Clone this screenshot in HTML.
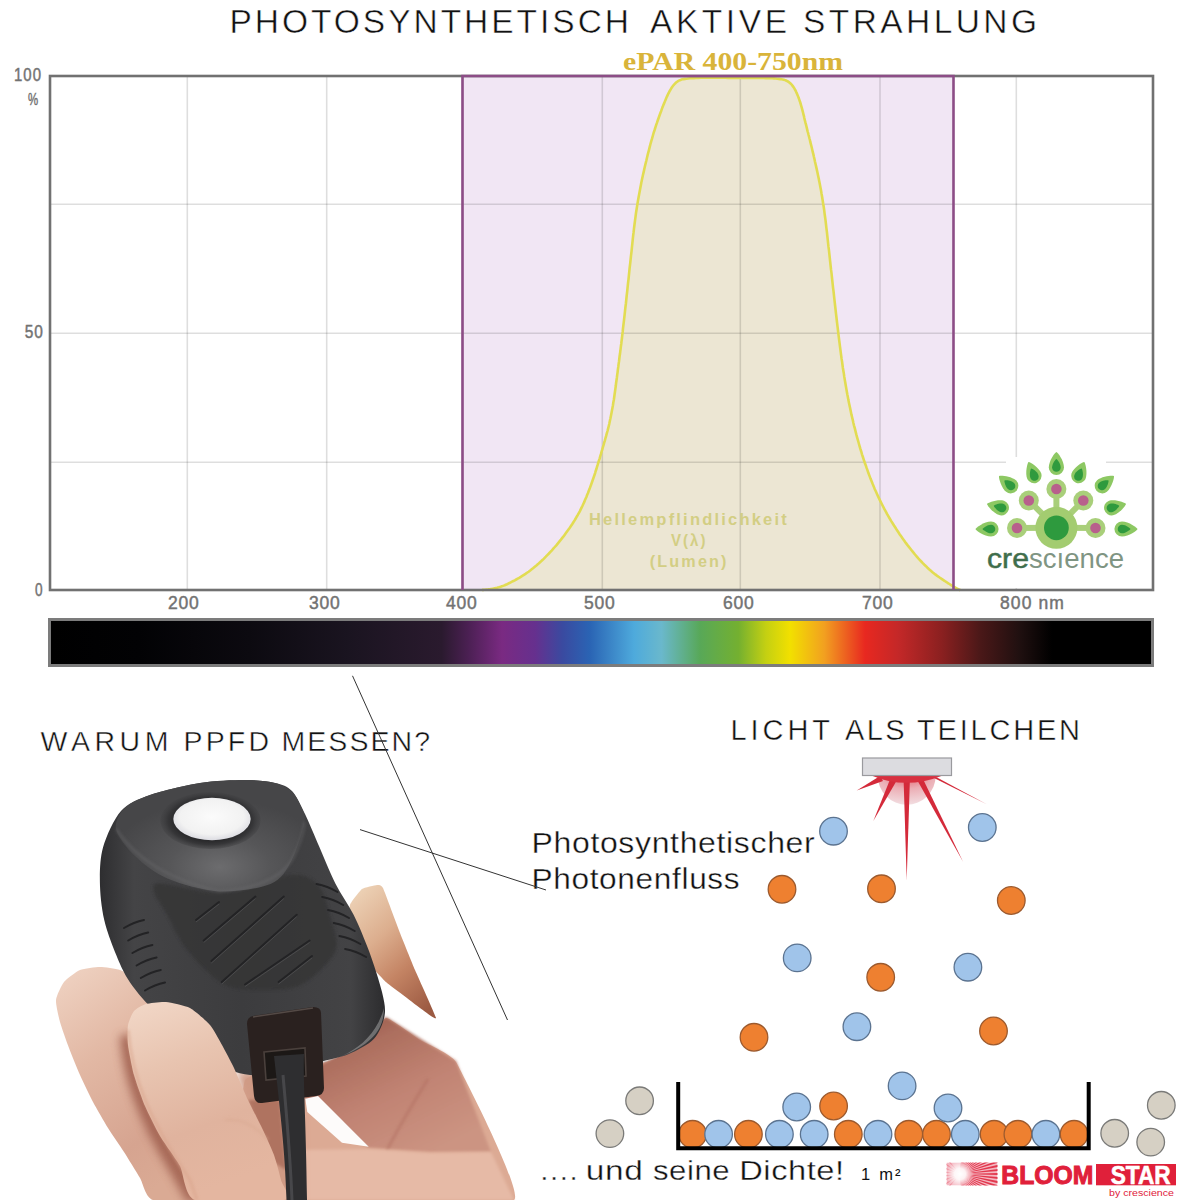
<!DOCTYPE html>
<html><head><meta charset="utf-8">
<style>
html,body{margin:0;padding:0;background:#fff;}
body{width:1200px;height:1200px;overflow:hidden;position:relative;}
svg{position:absolute;left:0;top:0;}
</style></head><body>
<svg width="1200" height="1200" viewBox="0 0 1200 1200" font-family="Liberation Sans, sans-serif">
<defs>
<linearGradient id="spec" x1="51" y1="0" x2="1151" y2="0" gradientUnits="userSpaceOnUse">
<stop offset="0" stop-color="#000"/>
<stop offset="0.08" stop-color="#020204"/>
<stop offset="0.18" stop-color="#0c0a10"/>
<stop offset="0.27" stop-color="#1a1420"/>
<stop offset="0.355" stop-color="#2a1a2e"/>
<stop offset="0.38" stop-color="#4c2054"/>
<stop offset="0.41" stop-color="#7a2a82"/>
<stop offset="0.44" stop-color="#66308e"/>
<stop offset="0.465" stop-color="#3a4aa0"/>
<stop offset="0.49" stop-color="#2a64b4"/>
<stop offset="0.53" stop-color="#4eaadc"/>
<stop offset="0.555" stop-color="#6ab8cc"/>
<stop offset="0.59" stop-color="#58a858"/>
<stop offset="0.625" stop-color="#74b030"/>
<stop offset="0.65" stop-color="#c4d012"/>
<stop offset="0.672" stop-color="#f2e000"/>
<stop offset="0.703" stop-color="#f2a020"/>
<stop offset="0.74" stop-color="#e82820"/>
<stop offset="0.77" stop-color="#c42828"/>
<stop offset="0.81" stop-color="#8a2020"/>
<stop offset="0.845" stop-color="#4a1818"/>
<stop offset="0.88" stop-color="#201010"/>
<stop offset="0.91" stop-color="#000"/>
<stop offset="1" stop-color="#000"/>
</linearGradient>
</defs>

<rect x="462.5" y="76" width="491" height="514" fill="#f1e6f4"/>
<path d="M482.0,590.0 L482.0,590.0 L482.1,590.0 L482.3,590.0 L482.4,590.0 L482.6,589.9 L482.9,589.9 L483.2,589.9 L483.5,589.9 L483.9,589.8 L484.4,589.8 L484.8,589.7 L485.4,589.7 L485.9,589.6 L486.5,589.6 L487.2,589.5 L487.8,589.5 L488.5,589.4 L489.3,589.3 L490.0,589.2 L490.7,589.1 L491.5,589.0 L492.3,588.8 L493.0,588.7 L493.8,588.5 L494.6,588.3 L495.5,588.1 L496.3,587.9 L497.2,587.7 L498.0,587.4 L498.9,587.2 L499.8,586.9 L500.7,586.7 L501.7,586.3 L502.6,586.0 L503.7,585.6 L504.7,585.2 L505.8,584.7 L507.0,584.2 L508.2,583.6 L509.4,583.0 L510.7,582.4 L512.0,581.7 L513.4,581.0 L514.8,580.3 L516.2,579.5 L517.7,578.6 L519.2,577.8 L520.8,576.8 L522.3,575.9 L523.9,574.9 L525.5,573.9 L527.0,572.8 L528.6,571.7 L530.2,570.5 L531.7,569.3 L533.3,568.1 L534.8,566.8 L536.4,565.5 L538.0,564.1 L539.5,562.7 L541.1,561.3 L542.7,559.8 L544.2,558.3 L545.8,556.7 L547.3,555.1 L548.9,553.5 L550.4,551.9 L551.9,550.3 L553.3,548.7 L554.8,547.0 L556.3,545.3 L557.7,543.6 L559.1,541.9 L560.5,540.2 L561.9,538.4 L563.3,536.7 L564.6,534.9 L565.9,533.1 L567.2,531.3 L568.5,529.5 L569.8,527.7 L571.1,525.8 L572.3,524.0 L573.4,522.2 L574.6,520.4 L575.7,518.5 L576.7,516.7 L577.8,514.9 L578.8,513.1 L579.8,511.3 L580.7,509.4 L581.6,507.6 L582.5,505.8 L583.3,504.0 L584.2,502.2 L584.9,500.3 L585.7,498.5 L586.5,496.7 L587.2,494.8 L588.0,492.9 L588.7,491.0 L589.5,489.1 L590.2,487.1 L590.9,485.2 L591.6,483.2 L592.3,481.2 L593.0,479.2 L593.7,477.2 L594.4,475.2 L595.1,473.1 L595.7,471.0 L596.4,469.0 L597.0,466.9 L597.7,464.7 L598.3,462.6 L599.0,460.4 L599.7,458.3 L600.3,456.1 L601.0,453.9 L601.6,451.7 L602.3,449.4 L602.9,447.2 L603.6,444.9 L604.2,442.7 L604.9,440.4 L605.5,438.0 L606.2,435.7 L606.8,433.4 L607.5,431.0 L608.1,428.6 L608.7,426.2 L609.3,423.7 L609.8,421.2 L610.4,418.6 L610.9,416.1 L611.4,413.5 L611.9,410.8 L612.4,408.2 L612.9,405.5 L613.3,402.7 L613.8,400.0 L614.2,397.2 L614.6,394.3 L615.0,391.5 L615.4,388.6 L615.8,385.8 L616.1,383.0 L616.5,380.2 L616.9,377.5 L617.2,374.8 L617.6,372.1 L617.9,369.4 L618.3,366.7 L618.6,364.1 L619.0,361.5 L619.3,358.9 L619.6,356.3 L620.0,353.8 L620.3,351.2 L620.6,348.8 L620.9,346.2 L621.3,343.5 L621.6,340.7 L622.0,337.8 L622.3,334.8 L622.7,331.7 L623.0,328.5 L623.4,325.2 L623.8,321.9 L624.2,318.4 L624.6,314.8 L625.0,311.1 L625.4,307.4 L625.9,303.5 L626.3,299.5 L626.7,295.5 L627.2,291.4 L627.6,287.4 L628.0,283.4 L628.5,279.3 L628.9,275.3 L629.3,271.4 L629.7,267.4 L630.2,263.4 L630.6,259.5 L631.0,255.6 L631.5,251.6 L631.9,247.7 L632.3,243.8 L632.7,239.9 L633.1,236.1 L633.6,232.2 L634.0,228.4 L634.5,224.5 L635.0,220.7 L635.5,216.9 L636.0,213.0 L636.6,209.2 L637.2,205.4 L637.8,201.6 L638.5,197.8 L639.2,194.0 L639.9,190.2 L640.6,186.5 L641.3,182.7 L642.1,178.9 L642.9,175.2 L643.8,171.4 L644.6,167.8 L645.4,164.2 L646.3,160.7 L647.1,157.2 L647.9,153.9 L648.8,150.6 L649.6,147.4 L650.4,144.3 L651.2,141.3 L652.1,138.4 L652.9,135.5 L653.7,132.7 L654.6,130.0 L655.4,127.4 L656.2,124.9 L657.1,122.4 L657.9,120.0 L658.7,117.7 L659.5,115.5 L660.3,113.3 L661.1,111.2 L661.8,109.1 L662.6,107.1 L663.3,105.2 L664.1,103.4 L664.8,101.6 L665.5,99.9 L666.2,98.2 L666.9,96.6 L667.6,95.1 L668.3,93.7 L669.0,92.3 L669.7,91.0 L670.4,89.8 L671.1,88.6 L671.8,87.5 L672.5,86.5 L673.3,85.5 L674.0,84.6 L674.8,83.8 L675.6,83.0 L676.4,82.3 L677.2,81.7 L678.0,81.1 L678.9,80.7 L679.7,80.2 L680.6,79.9 L681.4,79.6 L682.5,79.3 L683.6,79.1 L685.0,78.9 L686.4,78.7 L688.0,78.5 L689.8,78.3 L691.7,78.2 L693.8,78.1 L696.0,78.0 L698.4,77.9 L700.9,77.8 L703.5,77.8 L706.3,77.7 L709.3,77.7 L712.4,77.7 L715.6,77.8 L718.8,77.8 L722.0,77.8 L725.1,77.8 L728.2,77.9 L731.2,77.9 L734.1,77.9 L737.1,77.9 L739.9,77.9 L742.8,78.0 L745.5,78.0 L748.3,78.0 L751.0,78.0 L753.6,78.0 L756.2,78.0 L758.8,78.0 L761.2,78.0 L763.6,78.0 L765.9,78.1 L768.1,78.1 L770.2,78.2 L772.1,78.3 L774.0,78.4 L775.7,78.5 L777.3,78.7 L778.8,78.9 L780.2,79.1 L781.5,79.3 L782.7,79.5 L783.8,79.8 L784.8,80.1 L785.6,80.3 L786.4,80.7 L787.1,81.0 L787.8,81.4 L788.5,81.9 L789.2,82.4 L789.9,82.9 L790.5,83.5 L791.2,84.2 L791.8,84.8 L792.4,85.6 L793.0,86.4 L793.6,87.2 L794.2,88.1 L794.7,89.0 L795.2,90.0 L795.8,91.0 L796.2,92.0 L796.7,93.1 L797.2,94.2 L797.7,95.4 L798.2,96.6 L798.6,97.8 L799.1,99.1 L799.5,100.3 L800.0,101.7 L800.4,103.0 L800.8,104.4 L801.2,105.8 L801.6,107.2 L802.0,108.7 L802.4,110.2 L802.8,111.7 L803.2,113.3 L803.6,114.9 L804.0,116.4 L804.3,118.0 L804.7,119.7 L805.1,121.3 L805.5,122.9 L806.0,124.6 L806.4,126.2 L806.8,127.9 L807.2,129.6 L807.6,131.3 L808.1,133.0 L808.5,134.8 L809.0,136.5 L809.4,138.3 L809.9,140.0 L810.3,141.9 L810.8,143.8 L811.3,145.8 L811.8,147.8 L812.3,150.0 L812.8,152.2 L813.4,154.4 L813.9,156.8 L814.5,159.2 L815.0,161.7 L815.6,164.2 L816.2,166.9 L816.8,169.6 L817.4,172.3 L818.0,175.2 L818.6,178.1 L819.2,181.1 L819.8,184.1 L820.4,187.2 L821.0,190.3 L821.5,193.5 L822.1,196.7 L822.6,200.0 L823.1,203.3 L823.7,206.7 L824.2,210.2 L824.6,213.6 L825.1,217.2 L825.6,220.8 L826.0,224.4 L826.4,228.1 L826.9,231.9 L827.3,235.6 L827.7,239.4 L828.1,243.1 L828.5,246.9 L829.0,250.6 L829.4,254.4 L829.8,258.1 L830.2,261.9 L830.6,265.6 L831.0,269.4 L831.5,273.1 L831.9,276.9 L832.3,280.6 L832.7,284.4 L833.1,288.1 L833.6,291.9 L834.0,295.6 L834.4,299.3 L834.8,302.9 L835.2,306.5 L835.6,310.0 L836.0,313.6 L836.4,317.0 L836.8,320.5 L837.2,323.9 L837.6,327.2 L838.0,330.5 L838.4,333.8 L838.8,337.1 L839.2,340.3 L839.6,343.4 L840.0,346.6 L840.4,349.7 L840.8,352.8 L841.2,355.8 L841.6,358.9 L842.1,361.9 L842.5,365.0 L842.9,368.0 L843.4,371.0 L843.9,373.9 L844.3,376.9 L844.8,379.9 L845.3,382.8 L845.8,385.7 L846.3,388.6 L846.8,391.5 L847.3,394.3 L847.9,397.2 L848.4,400.1 L849.0,402.9 L849.6,405.8 L850.2,408.6 L850.8,411.5 L851.4,414.4 L852.1,417.2 L852.8,420.1 L853.4,423.0 L854.1,425.8 L854.9,428.7 L855.6,431.6 L856.3,434.4 L857.1,437.3 L857.9,440.2 L858.7,443.0 L859.5,445.9 L860.3,448.7 L861.2,451.5 L862.0,454.3 L862.9,457.0 L863.8,459.8 L864.7,462.5 L865.7,465.2 L866.6,467.9 L867.6,470.6 L868.5,473.3 L869.5,475.9 L870.5,478.6 L871.6,481.2 L872.6,483.8 L873.7,486.4 L874.7,489.0 L875.9,491.5 L877.0,494.0 L878.2,496.6 L879.4,499.1 L880.6,501.6 L881.8,504.0 L883.1,506.5 L884.3,508.9 L885.7,511.3 L887.0,513.8 L888.3,516.1 L889.7,518.5 L891.1,520.9 L892.6,523.2 L894.0,525.5 L895.5,527.8 L896.9,530.1 L898.4,532.3 L899.8,534.5 L901.3,536.6 L902.8,538.7 L904.3,540.8 L905.8,542.9 L907.3,544.9 L908.9,546.9 L910.4,548.8 L911.9,550.7 L913.5,552.6 L915.0,554.5 L916.6,556.3 L918.1,558.1 L919.7,559.8 L921.3,561.5 L922.8,563.1 L924.4,564.7 L926.0,566.2 L927.5,567.7 L929.1,569.2 L930.6,570.5 L932.2,571.9 L933.8,573.2 L935.3,574.4 L936.9,575.6 L938.5,576.7 L940.0,577.8 L941.6,578.9 L943.1,579.9 L944.5,580.8 L945.8,581.7 L947.1,582.5 L948.3,583.3 L949.5,584.0 L950.5,584.7 L951.5,585.3 L952.4,585.9 L953.3,586.4 L954.1,586.9 L954.8,587.3 L955.4,587.7 L956.0,588.0 L956.4,588.2 L956.9,588.5 L957.3,588.6 L957.6,588.8 L958.0,589.0 L958.3,589.1 L958.6,589.3 L958.8,589.4 L959.1,589.5 L959.3,589.6 L959.5,589.7 L959.6,589.8 L959.7,589.9 L959.8,589.9 L959.9,590.0 L960.0,590.0 L960.0,590.0 Z" fill="#ece6d3"/>
<line x1="187.3" y1="75" x2="187.3" y2="590" stroke="#000" stroke-opacity="0.13" stroke-width="1.6"/>
<line x1="326.7" y1="75" x2="326.7" y2="590" stroke="#000" stroke-opacity="0.13" stroke-width="1.6"/>
<line x1="462.5" y1="75" x2="462.5" y2="590" stroke="#000" stroke-opacity="0.13" stroke-width="1.6"/>
<line x1="602.3" y1="75" x2="602.3" y2="590" stroke="#000" stroke-opacity="0.13" stroke-width="1.6"/>
<line x1="740.3" y1="75" x2="740.3" y2="590" stroke="#000" stroke-opacity="0.13" stroke-width="1.6"/>
<line x1="880.0" y1="75" x2="880.0" y2="590" stroke="#000" stroke-opacity="0.13" stroke-width="1.6"/>
<line x1="1016.3" y1="75" x2="1016.3" y2="590" stroke="#000" stroke-opacity="0.13" stroke-width="1.6"/>
<line x1="50" y1="204.3" x2="1153" y2="204.3" stroke="#000" stroke-opacity="0.13" stroke-width="1.6"/>
<line x1="50" y1="333.2" x2="1153" y2="333.2" stroke="#000" stroke-opacity="0.13" stroke-width="1.6"/>
<line x1="50" y1="462.2" x2="1153" y2="462.2" stroke="#000" stroke-opacity="0.13" stroke-width="1.6"/>
<path d="M482.0,590.0 L482.0,590.0 L482.1,590.0 L482.3,590.0 L482.4,590.0 L482.6,589.9 L482.9,589.9 L483.2,589.9 L483.5,589.9 L483.9,589.8 L484.4,589.8 L484.8,589.7 L485.4,589.7 L485.9,589.6 L486.5,589.6 L487.2,589.5 L487.8,589.5 L488.5,589.4 L489.3,589.3 L490.0,589.2 L490.7,589.1 L491.5,589.0 L492.3,588.8 L493.0,588.7 L493.8,588.5 L494.6,588.3 L495.5,588.1 L496.3,587.9 L497.2,587.7 L498.0,587.4 L498.9,587.2 L499.8,586.9 L500.7,586.7 L501.7,586.3 L502.6,586.0 L503.7,585.6 L504.7,585.2 L505.8,584.7 L507.0,584.2 L508.2,583.6 L509.4,583.0 L510.7,582.4 L512.0,581.7 L513.4,581.0 L514.8,580.3 L516.2,579.5 L517.7,578.6 L519.2,577.8 L520.8,576.8 L522.3,575.9 L523.9,574.9 L525.5,573.9 L527.0,572.8 L528.6,571.7 L530.2,570.5 L531.7,569.3 L533.3,568.1 L534.8,566.8 L536.4,565.5 L538.0,564.1 L539.5,562.7 L541.1,561.3 L542.7,559.8 L544.2,558.3 L545.8,556.7 L547.3,555.1 L548.9,553.5 L550.4,551.9 L551.9,550.3 L553.3,548.7 L554.8,547.0 L556.3,545.3 L557.7,543.6 L559.1,541.9 L560.5,540.2 L561.9,538.4 L563.3,536.7 L564.6,534.9 L565.9,533.1 L567.2,531.3 L568.5,529.5 L569.8,527.7 L571.1,525.8 L572.3,524.0 L573.4,522.2 L574.6,520.4 L575.7,518.5 L576.7,516.7 L577.8,514.9 L578.8,513.1 L579.8,511.3 L580.7,509.4 L581.6,507.6 L582.5,505.8 L583.3,504.0 L584.2,502.2 L584.9,500.3 L585.7,498.5 L586.5,496.7 L587.2,494.8 L588.0,492.9 L588.7,491.0 L589.5,489.1 L590.2,487.1 L590.9,485.2 L591.6,483.2 L592.3,481.2 L593.0,479.2 L593.7,477.2 L594.4,475.2 L595.1,473.1 L595.7,471.0 L596.4,469.0 L597.0,466.9 L597.7,464.7 L598.3,462.6 L599.0,460.4 L599.7,458.3 L600.3,456.1 L601.0,453.9 L601.6,451.7 L602.3,449.4 L602.9,447.2 L603.6,444.9 L604.2,442.7 L604.9,440.4 L605.5,438.0 L606.2,435.7 L606.8,433.4 L607.5,431.0 L608.1,428.6 L608.7,426.2 L609.3,423.7 L609.8,421.2 L610.4,418.6 L610.9,416.1 L611.4,413.5 L611.9,410.8 L612.4,408.2 L612.9,405.5 L613.3,402.7 L613.8,400.0 L614.2,397.2 L614.6,394.3 L615.0,391.5 L615.4,388.6 L615.8,385.8 L616.1,383.0 L616.5,380.2 L616.9,377.5 L617.2,374.8 L617.6,372.1 L617.9,369.4 L618.3,366.7 L618.6,364.1 L619.0,361.5 L619.3,358.9 L619.6,356.3 L620.0,353.8 L620.3,351.2 L620.6,348.8 L620.9,346.2 L621.3,343.5 L621.6,340.7 L622.0,337.8 L622.3,334.8 L622.7,331.7 L623.0,328.5 L623.4,325.2 L623.8,321.9 L624.2,318.4 L624.6,314.8 L625.0,311.1 L625.4,307.4 L625.9,303.5 L626.3,299.5 L626.7,295.5 L627.2,291.4 L627.6,287.4 L628.0,283.4 L628.5,279.3 L628.9,275.3 L629.3,271.4 L629.7,267.4 L630.2,263.4 L630.6,259.5 L631.0,255.6 L631.5,251.6 L631.9,247.7 L632.3,243.8 L632.7,239.9 L633.1,236.1 L633.6,232.2 L634.0,228.4 L634.5,224.5 L635.0,220.7 L635.5,216.9 L636.0,213.0 L636.6,209.2 L637.2,205.4 L637.8,201.6 L638.5,197.8 L639.2,194.0 L639.9,190.2 L640.6,186.5 L641.3,182.7 L642.1,178.9 L642.9,175.2 L643.8,171.4 L644.6,167.8 L645.4,164.2 L646.3,160.7 L647.1,157.2 L647.9,153.9 L648.8,150.6 L649.6,147.4 L650.4,144.3 L651.2,141.3 L652.1,138.4 L652.9,135.5 L653.7,132.7 L654.6,130.0 L655.4,127.4 L656.2,124.9 L657.1,122.4 L657.9,120.0 L658.7,117.7 L659.5,115.5 L660.3,113.3 L661.1,111.2 L661.8,109.1 L662.6,107.1 L663.3,105.2 L664.1,103.4 L664.8,101.6 L665.5,99.9 L666.2,98.2 L666.9,96.6 L667.6,95.1 L668.3,93.7 L669.0,92.3 L669.7,91.0 L670.4,89.8 L671.1,88.6 L671.8,87.5 L672.5,86.5 L673.3,85.5 L674.0,84.6 L674.8,83.8 L675.6,83.0 L676.4,82.3 L677.2,81.7 L678.0,81.1 L678.9,80.7 L679.7,80.2 L680.6,79.9 L681.4,79.6 L682.5,79.3 L683.6,79.1 L685.0,78.9 L686.4,78.7 L688.0,78.5 L689.8,78.3 L691.7,78.2 L693.8,78.1 L696.0,78.0 L698.4,77.9 L700.9,77.8 L703.5,77.8 L706.3,77.7 L709.3,77.7 L712.4,77.7 L715.6,77.8 L718.8,77.8 L722.0,77.8 L725.1,77.8 L728.2,77.9 L731.2,77.9 L734.1,77.9 L737.1,77.9 L739.9,77.9 L742.8,78.0 L745.5,78.0 L748.3,78.0 L751.0,78.0 L753.6,78.0 L756.2,78.0 L758.8,78.0 L761.2,78.0 L763.6,78.0 L765.9,78.1 L768.1,78.1 L770.2,78.2 L772.1,78.3 L774.0,78.4 L775.7,78.5 L777.3,78.7 L778.8,78.9 L780.2,79.1 L781.5,79.3 L782.7,79.5 L783.8,79.8 L784.8,80.1 L785.6,80.3 L786.4,80.7 L787.1,81.0 L787.8,81.4 L788.5,81.9 L789.2,82.4 L789.9,82.9 L790.5,83.5 L791.2,84.2 L791.8,84.8 L792.4,85.6 L793.0,86.4 L793.6,87.2 L794.2,88.1 L794.7,89.0 L795.2,90.0 L795.8,91.0 L796.2,92.0 L796.7,93.1 L797.2,94.2 L797.7,95.4 L798.2,96.6 L798.6,97.8 L799.1,99.1 L799.5,100.3 L800.0,101.7 L800.4,103.0 L800.8,104.4 L801.2,105.8 L801.6,107.2 L802.0,108.7 L802.4,110.2 L802.8,111.7 L803.2,113.3 L803.6,114.9 L804.0,116.4 L804.3,118.0 L804.7,119.7 L805.1,121.3 L805.5,122.9 L806.0,124.6 L806.4,126.2 L806.8,127.9 L807.2,129.6 L807.6,131.3 L808.1,133.0 L808.5,134.8 L809.0,136.5 L809.4,138.3 L809.9,140.0 L810.3,141.9 L810.8,143.8 L811.3,145.8 L811.8,147.8 L812.3,150.0 L812.8,152.2 L813.4,154.4 L813.9,156.8 L814.5,159.2 L815.0,161.7 L815.6,164.2 L816.2,166.9 L816.8,169.6 L817.4,172.3 L818.0,175.2 L818.6,178.1 L819.2,181.1 L819.8,184.1 L820.4,187.2 L821.0,190.3 L821.5,193.5 L822.1,196.7 L822.6,200.0 L823.1,203.3 L823.7,206.7 L824.2,210.2 L824.6,213.6 L825.1,217.2 L825.6,220.8 L826.0,224.4 L826.4,228.1 L826.9,231.9 L827.3,235.6 L827.7,239.4 L828.1,243.1 L828.5,246.9 L829.0,250.6 L829.4,254.4 L829.8,258.1 L830.2,261.9 L830.6,265.6 L831.0,269.4 L831.5,273.1 L831.9,276.9 L832.3,280.6 L832.7,284.4 L833.1,288.1 L833.6,291.9 L834.0,295.6 L834.4,299.3 L834.8,302.9 L835.2,306.5 L835.6,310.0 L836.0,313.6 L836.4,317.0 L836.8,320.5 L837.2,323.9 L837.6,327.2 L838.0,330.5 L838.4,333.8 L838.8,337.1 L839.2,340.3 L839.6,343.4 L840.0,346.6 L840.4,349.7 L840.8,352.8 L841.2,355.8 L841.6,358.9 L842.1,361.9 L842.5,365.0 L842.9,368.0 L843.4,371.0 L843.9,373.9 L844.3,376.9 L844.8,379.9 L845.3,382.8 L845.8,385.7 L846.3,388.6 L846.8,391.5 L847.3,394.3 L847.9,397.2 L848.4,400.1 L849.0,402.9 L849.6,405.8 L850.2,408.6 L850.8,411.5 L851.4,414.4 L852.1,417.2 L852.8,420.1 L853.4,423.0 L854.1,425.8 L854.9,428.7 L855.6,431.6 L856.3,434.4 L857.1,437.3 L857.9,440.2 L858.7,443.0 L859.5,445.9 L860.3,448.7 L861.2,451.5 L862.0,454.3 L862.9,457.0 L863.8,459.8 L864.7,462.5 L865.7,465.2 L866.6,467.9 L867.6,470.6 L868.5,473.3 L869.5,475.9 L870.5,478.6 L871.6,481.2 L872.6,483.8 L873.7,486.4 L874.7,489.0 L875.9,491.5 L877.0,494.0 L878.2,496.6 L879.4,499.1 L880.6,501.6 L881.8,504.0 L883.1,506.5 L884.3,508.9 L885.7,511.3 L887.0,513.8 L888.3,516.1 L889.7,518.5 L891.1,520.9 L892.6,523.2 L894.0,525.5 L895.5,527.8 L896.9,530.1 L898.4,532.3 L899.8,534.5 L901.3,536.6 L902.8,538.7 L904.3,540.8 L905.8,542.9 L907.3,544.9 L908.9,546.9 L910.4,548.8 L911.9,550.7 L913.5,552.6 L915.0,554.5 L916.6,556.3 L918.1,558.1 L919.7,559.8 L921.3,561.5 L922.8,563.1 L924.4,564.7 L926.0,566.2 L927.5,567.7 L929.1,569.2 L930.6,570.5 L932.2,571.9 L933.8,573.2 L935.3,574.4 L936.9,575.6 L938.5,576.7 L940.0,577.8 L941.6,578.9 L943.1,579.9 L944.5,580.8 L945.8,581.7 L947.1,582.5 L948.3,583.3 L949.5,584.0 L950.5,584.7 L951.5,585.3 L952.4,585.9 L953.3,586.4 L954.1,586.9 L954.8,587.3 L955.4,587.7 L956.0,588.0 L956.4,588.2 L956.9,588.5 L957.3,588.6 L957.6,588.8 L958.0,589.0 L958.3,589.1 L958.6,589.3 L958.8,589.4 L959.1,589.5 L959.3,589.6 L959.5,589.7 L959.6,589.8 L959.7,589.9 L959.8,589.9 L959.9,590.0 L960.0,590.0 L960.0,590.0" fill="none" stroke="#e2dc52" stroke-width="2.6"/>
<rect x="50" y="76" width="1103" height="514" fill="none" stroke="#717171" stroke-width="2.6"/>
<path d="M462.5,590 V76 H953.5 V590" fill="none" stroke="#8c4d86" stroke-width="2.6"/>
<g fill="#727272" stroke="#727272" stroke-width="0.45" font-size="17.5" letter-spacing="1.2">
<text x="14" y="81" textLength="28" lengthAdjust="spacingAndGlyphs">100</text><text x="28" y="105" font-size="16" textLength="11" lengthAdjust="spacingAndGlyphs">%</text>
<text x="24.7" y="338.3" textLength="19.3" lengthAdjust="spacingAndGlyphs">50</text><text x="35" y="595.5" textLength="8.5" lengthAdjust="spacingAndGlyphs">0</text>
<text x="168" y="609" textLength="32" lengthAdjust="spacing">200</text>
<text x="309" y="609" textLength="32" lengthAdjust="spacing">300</text>
<text x="446" y="609" textLength="32" lengthAdjust="spacing">400</text>
<text x="584" y="609" textLength="32" lengthAdjust="spacing">500</text>
<text x="723" y="609" textLength="32" lengthAdjust="spacing">600</text>
<text x="862" y="609" textLength="32" lengthAdjust="spacing">700</text>
<text x="1000" y="609" textLength="65" lengthAdjust="spacing">800 nm</text>
</g>
<text x="623" y="70" font-family="Liberation Serif, serif" font-weight="bold" font-size="25" fill="#d9b43a" textLength="220" lengthAdjust="spacingAndGlyphs">ePAR 400-750nm</text>
<g fill="#d3ce84" font-weight="bold" font-size="16.5" letter-spacing="2.2" text-anchor="start">
<text x="589" y="525" textLength="200" lengthAdjust="spacingAndGlyphs">Hellempflindlichkeit</text>
<text x="671" y="546" textLength="36.5" lengthAdjust="spacingAndGlyphs">V(λ)</text>
<text x="649.7" y="567" textLength="79" lengthAdjust="spacingAndGlyphs">(Lumen)</text>
</g>
<g font-size="33.5" fill="#111" stroke="#fff" stroke-width="0.5"><text x="229.5" y="32.5" textLength="399.5" lengthAdjust="spacing">PHOTOSYNTHETISCH</text><text x="650" y="32.5" textLength="137" lengthAdjust="spacing">AKTIVE</text><text x="803" y="32.5" textLength="234" lengthAdjust="spacing">STRAHLUNG</text></g>
<rect x="49.5" y="619.5" width="1103" height="46" fill="url(#spec)" stroke="#7c7c7c" stroke-width="3"/>
<g font-size="28.5" fill="#111" stroke="#fff" stroke-width="0.45"><text x="40.5" y="751" textLength="128" lengthAdjust="spacing">WARUM</text><text x="183.5" y="751" textLength="85.5" lengthAdjust="spacing">PPFD</text><text x="281.5" y="751" textLength="148.5" lengthAdjust="spacing">MESSEN?</text></g>
<g font-size="29" fill="#111" stroke="#fff" stroke-width="0.45"><text x="730.5" y="739.8" textLength="99.5" lengthAdjust="spacing">LICHT</text><text x="845" y="739.8" textLength="59.5" lengthAdjust="spacing">ALS</text><text x="917" y="739.8" textLength="163" lengthAdjust="spacing">TEILCHEN</text></g>
<g fill="#111" stroke="#fff" stroke-width="0.35">
<text transform="translate(531.5,853) scale(1.0853,1)" font-size="29.5" letter-spacing="0.6">Photosynthetischer</text>
<text transform="translate(531.5,889.2) scale(1.072,1)" font-size="29.5" letter-spacing="0.6">Photonenfluss</text>
<text transform="translate(540.2,1180) scale(1.0488,1)" font-size="28" letter-spacing="1.5">....</text>
<text transform="translate(585.8,1180) scale(1.194,1)" font-size="28" letter-spacing="0.5">und</text>
<text transform="translate(653,1180) scale(1.112,1)" font-size="28" letter-spacing="0.5">seine</text>
<text transform="translate(739.2,1180) scale(1.1649,1)" font-size="28" letter-spacing="0.5">Dichte!</text>
</g>
<text x="861" y="1180" font-size="16.5" fill="#111" letter-spacing="2.2">1 m²</text>
<line x1="352.5" y1="675.8" x2="507.5" y2="1020" stroke="#333" stroke-width="1"/>
<line x1="360" y1="829.6" x2="546" y2="890" stroke="#333" stroke-width="1"/>
<defs><radialGradient id="gGlow" cx="0.5" cy="0" r="1"><stop offset="0" stop-color="#e04050"/><stop offset="0.45" stop-color="#e8a0a8"/><stop offset="1" stop-color="#f0d8dc"/></radialGradient></defs>
<path d="M877.7,775.7 A29,29 0 0 0 935.7,775.7 Z" fill="url(#gGlow)" opacity="0.85"/>
<g fill="#d42a3a">
<path d="M880,776 L856.7,790.5 L883,781 Z"/>
<path d="M891,777 L873.3,821 L897,780 Z"/>
<path d="M903.5,776 L906.7,880 L910,776 Z"/>
<path d="M916,778 L963.3,862.3 L922,777 Z"/>
<path d="M928,775 L986.7,804.3 L937,777.5 Z"/>
</g>
<path d="M872,775.7 Q906,790 942,775.7 Z" fill="#d83040"/>
<rect x="862.5" y="758" width="89" height="17.5" fill="#dcdce0" stroke="#9a9a9e" stroke-width="1.2"/>
<circle cx="692.6" cy="1134.3" r="13.8" fill="#ee8030" stroke="#9c5a2e" stroke-width="1.3"/>
<circle cx="718.6" cy="1134.3" r="13.8" fill="#a0c4ea" stroke="#5b7390" stroke-width="1.3"/>
<circle cx="748.4" cy="1134.3" r="13.8" fill="#ee8030" stroke="#9c5a2e" stroke-width="1.3"/>
<circle cx="779.4" cy="1134.3" r="13.8" fill="#a0c4ea" stroke="#5b7390" stroke-width="1.3"/>
<circle cx="814.2" cy="1134.3" r="13.8" fill="#a0c4ea" stroke="#5b7390" stroke-width="1.3"/>
<circle cx="848.3" cy="1134.3" r="13.8" fill="#ee8030" stroke="#9c5a2e" stroke-width="1.3"/>
<circle cx="878.0" cy="1134.3" r="13.8" fill="#a0c4ea" stroke="#5b7390" stroke-width="1.3"/>
<circle cx="908.8" cy="1134.3" r="13.8" fill="#ee8030" stroke="#9c5a2e" stroke-width="1.3"/>
<circle cx="936.5" cy="1134.3" r="13.8" fill="#ee8030" stroke="#9c5a2e" stroke-width="1.3"/>
<circle cx="965.3" cy="1134.3" r="13.8" fill="#a0c4ea" stroke="#5b7390" stroke-width="1.3"/>
<circle cx="994.1" cy="1134.3" r="13.8" fill="#ee8030" stroke="#9c5a2e" stroke-width="1.3"/>
<circle cx="1017.9" cy="1134.3" r="13.8" fill="#ee8030" stroke="#9c5a2e" stroke-width="1.3"/>
<circle cx="1045.9" cy="1134.3" r="13.8" fill="#a0c4ea" stroke="#5b7390" stroke-width="1.3"/>
<circle cx="1074.1" cy="1134.3" r="13.8" fill="#ee8030" stroke="#9c5a2e" stroke-width="1.3"/>
<circle cx="754.0" cy="1037.3" r="13.8" fill="#ee8030" stroke="#9c5a2e" stroke-width="1.3"/>
<circle cx="782.0" cy="889.3" r="13.8" fill="#ee8030" stroke="#9c5a2e" stroke-width="1.3"/>
<circle cx="796.7" cy="1107.0" r="13.8" fill="#a0c4ea" stroke="#5b7390" stroke-width="1.3"/>
<circle cx="797.2" cy="957.9" r="13.8" fill="#a0c4ea" stroke="#5b7390" stroke-width="1.3"/>
<circle cx="833.5" cy="831.2" r="13.8" fill="#a0c4ea" stroke="#5b7390" stroke-width="1.3"/>
<circle cx="833.6" cy="1106.0" r="13.8" fill="#ee8030" stroke="#9c5a2e" stroke-width="1.3"/>
<circle cx="856.9" cy="1026.7" r="13.8" fill="#a0c4ea" stroke="#5b7390" stroke-width="1.3"/>
<circle cx="880.7" cy="977.3" r="13.8" fill="#ee8030" stroke="#9c5a2e" stroke-width="1.3"/>
<circle cx="881.5" cy="888.8" r="13.8" fill="#ee8030" stroke="#9c5a2e" stroke-width="1.3"/>
<circle cx="902.1" cy="1085.9" r="13.8" fill="#a0c4ea" stroke="#5b7390" stroke-width="1.3"/>
<circle cx="948.0" cy="1108.0" r="13.8" fill="#a0c4ea" stroke="#5b7390" stroke-width="1.3"/>
<circle cx="967.9" cy="967.2" r="13.8" fill="#a0c4ea" stroke="#5b7390" stroke-width="1.3"/>
<circle cx="982.3" cy="827.5" r="13.8" fill="#a0c4ea" stroke="#5b7390" stroke-width="1.3"/>
<circle cx="993.5" cy="1031.0" r="13.8" fill="#ee8030" stroke="#9c5a2e" stroke-width="1.3"/>
<circle cx="1011.3" cy="900.5" r="13.8" fill="#ee8030" stroke="#9c5a2e" stroke-width="1.3"/>
<circle cx="639.6" cy="1100.8" r="13.8" fill="#d6d0c4" stroke="#7a7a78" stroke-width="1.3"/>
<circle cx="609.9" cy="1133.6" r="13.8" fill="#d6d0c4" stroke="#7a7a78" stroke-width="1.3"/>
<circle cx="1114.7" cy="1133.3" r="13.8" fill="#d6d0c4" stroke="#7a7a78" stroke-width="1.3"/>
<circle cx="1150.7" cy="1142.1" r="13.8" fill="#d6d0c4" stroke="#7a7a78" stroke-width="1.3"/>
<circle cx="1161.3" cy="1105.3" r="13.8" fill="#d6d0c4" stroke="#7a7a78" stroke-width="1.3"/>
<path d="M678.2,1082 V1148.2 H1088.7 V1082" fill="none" stroke="#000" stroke-width="4"/>
<defs><clipPath id="bsClip"><rect x="946.5" y="1162.5" width="51" height="23"/></clipPath><radialGradient id="bsGlow"><stop offset="0" stop-color="#fff"/><stop offset="0.4" stop-color="#fff" stop-opacity="0.9"/><stop offset="1" stop-color="#fff" stop-opacity="0"/></radialGradient></defs>
<g clip-path="url(#bsClip)">
<rect x="946.5" y="1162.5" width="51" height="23" fill="#f4b8c2"/>
<path d="M960,1174 L965.4,1104.2 L969.3,1104.6 Z" fill="#e2384e"/>
<path d="M960,1174 L972.6,1105.1 L976.5,1106.0 Z" fill="#e2384e"/>
<path d="M960,1174 L979.8,1106.8 L983.5,1108.1 Z" fill="#e2384e"/>
<path d="M960,1174 L986.7,1109.3 L990.2,1110.9 Z" fill="#e2384e"/>
<path d="M960,1174 L993.3,1112.4 L996.7,1114.4 Z" fill="#e2384e"/>
<path d="M960,1174 L999.5,1116.2 L1002.7,1118.5 Z" fill="#e2384e"/>
<path d="M960,1174 L1005.4,1120.7 L1008.3,1123.3 Z" fill="#e2384e"/>
<path d="M960,1174 L1010.7,1125.7 L1013.3,1128.6 Z" fill="#e2384e"/>
<path d="M960,1174 L1015.5,1131.3 L1017.8,1134.5 Z" fill="#e2384e"/>
<path d="M960,1174 L1019.6,1137.3 L1021.6,1140.7 Z" fill="#e2384e"/>
<path d="M960,1174 L1023.1,1143.8 L1024.7,1147.3 Z" fill="#e2384e"/>
<path d="M960,1174 L1025.9,1150.5 L1027.2,1154.2 Z" fill="#e2384e"/>
<path d="M960,1174 L1028.0,1157.5 L1028.9,1161.4 Z" fill="#e2384e"/>
<path d="M960,1174 L1029.4,1164.7 L1029.8,1168.6 Z" fill="#e2384e"/>
<path d="M960,1174 L1030.0,1172.0 L1030.0,1176.0 Z" fill="#e2384e"/>
<path d="M960,1174 L1029.8,1179.4 L1029.4,1183.3 Z" fill="#e2384e"/>
<path d="M960,1174 L1028.9,1186.6 L1028.0,1190.5 Z" fill="#e2384e"/>
<path d="M960,1174 L1027.2,1193.8 L1025.9,1197.5 Z" fill="#e2384e"/>
<path d="M960,1174 L1024.7,1200.7 L1023.1,1204.2 Z" fill="#e2384e"/>
<path d="M960,1174 L1021.6,1207.3 L1019.6,1210.7 Z" fill="#e2384e"/>
<path d="M960,1174 L1017.8,1213.5 L1015.5,1216.7 Z" fill="#e2384e"/>
<path d="M960,1174 L1013.3,1219.4 L1010.7,1222.3 Z" fill="#e2384e"/>
<path d="M960,1174 L1008.3,1224.7 L1005.4,1227.3 Z" fill="#e2384e"/>
<path d="M960,1174 L1002.7,1229.5 L999.5,1231.8 Z" fill="#e2384e"/>
<path d="M960,1174 L996.7,1233.6 L993.3,1235.6 Z" fill="#e2384e"/>
<path d="M960,1174 L990.2,1237.1 L986.7,1238.7 Z" fill="#e2384e"/>
<path d="M960,1174 L983.5,1239.9 L979.8,1241.2 Z" fill="#e2384e"/>
<path d="M960,1174 L976.5,1242.0 L972.6,1242.9 Z" fill="#e2384e"/>
<path d="M960,1174 L969.3,1243.4 L965.4,1243.8 Z" fill="#e2384e"/>
<path d="M960,1174 L934.8,1205.1 L932.7,1203.3 Z" fill="#ee8a98"/>
<path d="M960,1174 L928.1,1198.1 L926.5,1195.8 Z" fill="#ee8a98"/>
<path d="M960,1174 L923.2,1189.6 L922.2,1187.0 Z" fill="#ee8a98"/>
<path d="M960,1174 L920.5,1180.3 L920.2,1177.5 Z" fill="#ee8a98"/>
<path d="M960,1174 L920.2,1170.5 L920.5,1167.7 Z" fill="#ee8a98"/>
<path d="M960,1174 L922.2,1161.0 L923.2,1158.4 Z" fill="#ee8a98"/>
<path d="M960,1174 L926.5,1152.2 L928.1,1149.9 Z" fill="#ee8a98"/>
<path d="M960,1174 L932.7,1144.7 L934.8,1142.9 Z" fill="#ee8a98"/>
<circle cx="960" cy="1174" r="14" fill="url(#bsGlow)"/>
</g>
<text x="1001.3" y="1184" font-size="25" font-weight="bold" fill="#e0203a" stroke="#e0203a" stroke-width="1" textLength="92" lengthAdjust="spacingAndGlyphs">BLOOM</text>
<rect x="1096" y="1164" width="80" height="21.3" fill="#e0203a"/>
<text x="1110.7" y="1184" font-size="25" font-weight="bold" fill="#fff" stroke="#fff" stroke-width="0.6" textLength="60" lengthAdjust="spacingAndGlyphs">STAR</text>
<text x="1109" y="1196" font-size="9" fill="#e0203a" textLength="65" lengthAdjust="spacingAndGlyphs">by crescience</text>
<defs>
<linearGradient id="gThumb" x1="0.2" y1="0" x2="0.8" y2="1">
<stop offset="0" stop-color="#ecd0b4"/><stop offset="0.35" stop-color="#dcae8e"/><stop offset="0.65" stop-color="#c48464"/><stop offset="1" stop-color="#9c5a42"/></linearGradient>
<linearGradient id="gPalm" x1="0.3" y1="0" x2="0.5" y2="1">
<stop offset="0" stop-color="#9a5a48"/><stop offset="0.2" stop-color="#c08470"/><stop offset="0.5" stop-color="#d89e86"/><stop offset="0.8" stop-color="#e8b6a0"/><stop offset="1" stop-color="#efc4ae"/></linearGradient>
<linearGradient id="gLow" x1="0" y1="0" x2="0.3" y2="1">
<stop offset="0" stop-color="#e2a890"/><stop offset="0.5" stop-color="#ecbca6"/><stop offset="1" stop-color="#f2cab6"/></linearGradient>
<linearGradient id="gIndex" x1="0" y1="0" x2="0.5" y2="1">
<stop offset="0" stop-color="#f0d4c4"/><stop offset="0.4" stop-color="#e2b8a4"/><stop offset="0.8" stop-color="#d6a490"/><stop offset="1" stop-color="#daaa94"/></linearGradient>
<linearGradient id="gMid" x1="0" y1="0" x2="0.3" y2="1">
<stop offset="0" stop-color="#f2d8c8"/><stop offset="0.35" stop-color="#e8c4b0"/><stop offset="0.7" stop-color="#e0b39e"/><stop offset="1" stop-color="#e4b6a0"/></linearGradient>
<radialGradient id="gTop" cx="0.55" cy="0.78" r="0.6">
<stop offset="0" stop-color="#6c6c6e"/><stop offset="0.45" stop-color="#565658"/><stop offset="1" stop-color="#464648"/></radialGradient>
<linearGradient id="gBody" x1="0" y1="0" x2="1" y2="0">
<stop offset="0" stop-color="#2e2e30"/><stop offset="0.12" stop-color="#444446"/><stop offset="0.5" stop-color="#3c3c3e"/><stop offset="0.88" stop-color="#434345"/><stop offset="1" stop-color="#2c2c2e"/></linearGradient>
<linearGradient id="gBot" x1="0" y1="0" x2="0" y2="1">
<stop offset="0" stop-color="#3a3a3c" stop-opacity="0"/><stop offset="1" stop-color="#232325"/></linearGradient>
<filter id="blur1" x="-20%" y="-20%" width="140%" height="140%"><feGaussianBlur stdDeviation="1.5"/></filter>
<filter id="blur3" x="-50%" y="-50%" width="200%" height="200%"><feGaussianBlur stdDeviation="5"/></filter>
</defs>
<path d="M318.0,1064.0 C321.6,1063.4 348.6,1054.3 352.0,1052.0 C355.4,1049.7 382.6,1018.6 386.0,1018.0 C389.4,1017.4 416.5,1037.8 420.0,1040.0 C423.5,1042.2 451.3,1054.0 456.0,1062.0 C460.7,1070.0 524.3,1193.1 514.0,1200.0 C503.7,1206.9 263.7,1203.5 250.0,1200.0 C236.3,1196.5 240.2,1136.0 240.0,1130.0 C239.8,1124.0 243.0,1083.3 245.0,1080.0 C247.0,1076.7 276.4,1064.8 280.0,1064.0 C283.6,1063.2 314.4,1064.6 318.0,1064.0 Z" fill="#dcaa94"/>
<defs><linearGradient id="gRing" x1="0" y1="0" x2="0.7" y2="1">
<stop offset="0" stop-color="#8a4a3a"/><stop offset="0.3" stop-color="#ac6e5e"/><stop offset="0.6" stop-color="#c08272"/><stop offset="1" stop-color="#cc9482"/></linearGradient></defs>
<path d="M300,1075 L330,1060 L386,1017 L456,1061 L491,1152 L430,1152 L369,1148 L305,1100 Z" fill="url(#gRing)" filter="url(#blur1)"/>
<path d="M428,1079 C415,1100 400,1125 387,1150" stroke="#b06e60" stroke-width="2.5" fill="none" opacity="0.6" filter="url(#blur1)"/>
<path d="M300,1200 L296,1150 L369,1149 L430,1153 L491,1152 L514,1200 Z" fill="#e6baa6" filter="url(#blur1)"/>
<path d="M236,1070 L300,1075 L300,1200 L270,1200 Z" fill="#cf9a84" filter="url(#blur3)"/>
<path d="M248,1100 L280,1100 L286,1170 L270,1160 Z" fill="#a86a58" filter="url(#blur1)" opacity="0.8"/>
<path d="M305.3,1098.7 L318,1096 L368.7,1146.7 L342,1142.7 L307.3,1112 Z" fill="#fdfbfa"/>
<path d="M350.0,905.0 C350.8,902.3 360.2,890.3 362.0,889.0 C363.8,887.7 375.6,885.1 377.0,885.0 C378.4,884.9 381.5,884.8 383.0,888.0 C384.5,891.2 397.9,927.5 400.0,933.0 C402.1,938.5 412.6,964.3 415.0,970.0 C417.4,975.7 435.7,1015.5 436.0,1018.0 C436.3,1020.5 422.2,1009.5 420.0,1008.0 C417.8,1006.5 405.3,996.7 403.0,995.0 C400.7,993.3 388.5,984.3 386.0,982.0 C383.5,979.7 368.4,963.5 366.0,960.0 C363.6,956.5 351.1,933.7 350.0,930.0 C348.9,926.3 349.2,907.7 350.0,905.0 Z" fill="url(#gThumb)"/>
<path d="M140.0,982.0 C136.5,978.5 124.0,971.5 120.0,970.0 C116.0,968.5 104.0,967.0 100.0,967.0 C96.0,967.0 83.6,968.5 80.0,970.0 C76.4,971.5 66.4,979.0 64.0,982.0 C61.6,985.0 56.4,996.0 56.0,1000.0 C55.6,1004.0 58.7,1017.2 60.0,1022.0 C61.3,1026.8 67.0,1042.7 69.0,1048.0 C71.0,1053.3 77.6,1069.6 80.0,1075.0 C82.4,1080.4 90.2,1096.7 93.0,1102.0 C95.8,1107.3 104.9,1123.0 108.0,1128.0 C111.1,1133.0 120.8,1147.0 124.0,1152.0 C127.2,1157.0 137.1,1173.2 140.0,1178.0 C142.9,1182.8 145.5,1197.8 153.0,1200.0 C160.5,1202.2 210.3,1204.0 215.0,1200.0 C219.7,1196.0 203.7,1170.0 200.0,1160.0 C196.3,1150.0 181.4,1111.5 178.0,1100.0 C174.6,1088.5 168.3,1054.5 166.0,1045.0 C163.7,1035.5 157.6,1011.3 155.0,1005.0 C152.4,998.7 143.5,985.5 140.0,982.0 Z" fill="url(#gIndex)"/>
<path d="M121.0,811.0 C128.1,803.1 138.2,799.2 150.0,795.0 C161.8,790.8 185.8,785.2 200.0,783.0 C214.2,780.8 233.8,780.0 245.0,780.0 C256.2,780.0 267.9,781.4 275.0,783.0 C282.1,784.6 287.5,786.4 292.0,791.0 C296.5,795.6 301.2,806.3 305.0,814.0 C308.8,821.7 312.8,831.9 317.4,842.4 C322.0,852.9 330.1,872.9 335.5,883.7 C340.9,894.5 348.6,904.6 353.6,914.7 C358.6,924.8 364.7,939.4 369.0,951.0 C373.3,962.6 379.7,982.3 382.0,992.0 C384.3,1001.7 385.8,1008.5 384.6,1015.5 C383.4,1022.5 379.4,1032.9 374.0,1038.7 C368.6,1044.5 356.5,1050.7 348.4,1054.2 C340.3,1057.7 327.3,1059.6 320.0,1062.0 C312.7,1064.4 310.5,1068.0 300.0,1070.0 C289.5,1072.0 263.5,1076.5 250.0,1075.0 C236.5,1073.5 222.8,1068.2 210.0,1060.0 C197.2,1051.8 175.2,1029.4 165.0,1020.0 C154.8,1010.6 147.9,1004.7 141.7,997.4 C135.5,990.1 129.0,982.4 123.6,971.5 C118.2,960.6 109.0,937.8 105.5,925.0 C102.0,912.2 100.4,897.6 100.0,886.0 C99.6,874.4 99.8,858.8 103.0,847.5 C106.2,836.2 114.0,818.9 121.0,811.0 Z" fill="url(#gBody)"/>
<path d="M155.0,884.0 C147.5,888.0 165.1,910.0 170.0,920.0 C174.9,930.0 179.9,941.3 188.0,951.0 C196.1,960.7 212.9,978.6 224.0,984.5 C235.1,990.4 250.3,990.0 262.0,990.0 C273.7,990.0 291.0,990.4 302.0,984.5 C313.0,978.6 331.3,961.4 335.5,951.0 C339.7,940.6 332.6,924.9 330.0,915.0 C327.4,905.1 324.0,891.0 318.0,885.0 C312.0,879.0 304.7,873.8 290.0,875.0 C275.3,876.2 240.2,891.6 220.0,893.0 C199.8,894.4 162.5,880.0 155.0,884.0 Z" fill="#343436" opacity="0.8" filter="url(#blur1)"/>
<path d="M384,1008 C384,1030 372,1044 340,1057 L300,1068 C335,1062 372,1050 384,1008 Z" fill="#b8b8b8" opacity="0.45"/>
<path d="M116.0,829.0 C117.5,836.2 127.3,848.6 135.0,856.0 C142.7,863.4 154.9,873.2 167.5,878.5 C180.1,883.8 203.5,890.6 219.0,891.4 C234.5,892.2 260.1,888.4 271.0,883.7 C281.9,879.1 286.5,869.7 291.5,860.4 C296.5,851.1 303.2,830.0 304.5,821.7 C305.8,813.4 301.9,809.5 300.0,805.0 C298.1,800.5 295.8,795.3 292.0,792.0 C288.2,788.7 282.1,784.8 275.0,783.0 C267.9,781.2 256.2,780.0 245.0,780.0 C233.8,780.0 214.2,780.8 200.0,783.0 C185.8,785.2 161.2,791.2 150.0,795.0 C138.8,798.8 130.1,802.9 125.0,808.0 C119.9,813.1 114.5,821.8 116.0,829.0 Z" fill="url(#gTop)"/>
<path d="M116,829 C135,858 170,880 219,891.4 C250,890 280,880 292,860 C300,845 304,830 304.5,821.7" stroke="#707072" stroke-width="1.8" fill="none" opacity="0.55" filter="url(#blur1)"/>
<defs><radialGradient id="gDisk" cx="0.5" cy="0.45" r="0.55"><stop offset="0" stop-color="#fbfbfb"/><stop offset="0.75" stop-color="#f2f2f2"/><stop offset="1" stop-color="#dcdce2"/></radialGradient>
<radialGradient id="gRingG" cx="0.5" cy="0.5" r="0.5"><stop offset="0.72" stop-color="#2a2a2c"/><stop offset="0.85" stop-color="#363638"/><stop offset="1" stop-color="#404042" stop-opacity="0.4"/></radialGradient></defs>
<ellipse cx="210.5" cy="820.5" rx="50" ry="28.5" fill="url(#gRingG)"/>
<ellipse cx="212" cy="819" rx="38.7" ry="21.2" fill="url(#gDisk)"/>
<g stroke="#232325" stroke-width="2" stroke-linecap="round" fill="none">
<line x1="196.0" y1="920.0" x2="219.0" y2="902.0"/>
<line x1="203.7" y1="940.5" x2="255.4" y2="896.6"/>
<line x1="211.4" y1="961.0" x2="283.8" y2="896.6"/>
<line x1="221.8" y1="982.0" x2="296.7" y2="914.7"/>
<line x1="245.0" y1="984.5" x2="309.6" y2="940.5"/>
<line x1="278.6" y1="982.0" x2="312.0" y2="956.0"/>
<path d="M124.0,928.0 q10,-6 20,-8"/>
<path d="M128.2,940.5 q10,-6 20,-8"/>
<path d="M132.4,953.0 q10,-6 20,-8"/>
<path d="M136.6,965.5 q10,-6 20,-8"/>
<path d="M140.8,978.0 q10,-6 20,-8"/>
<path d="M145.0,990.5 q10,-6 20,-8"/>
<path d="M316.5,884.0 q11,2 21,8"/>
<path d="M322.2,897.0 q11,2 21,8"/>
<path d="M328.0,910.0 q11,2 21,8"/>
<path d="M333.7,923.0 q11,2 21,8"/>
<path d="M339.4,936.0 q11,2 21,8"/>
<path d="M345.1,949.0 q11,2 21,8"/>
</g>
<g stroke="#5c5c5e" stroke-width="1" fill="none" opacity="0.55">
<line x1="196.0" y1="922.0" x2="219.0" y2="904.0"/>
<line x1="203.7" y1="942.5" x2="255.4" y2="898.6"/>
<line x1="211.4" y1="963.0" x2="283.8" y2="898.6"/>
<line x1="221.8" y1="984.0" x2="296.7" y2="916.7"/>
<line x1="245.0" y1="986.5" x2="309.6" y2="942.5"/>
<line x1="278.6" y1="984.0" x2="312.0" y2="958.0"/>
</g>
<path d="M128,1035 C130,1075 145,1115 175,1165 L195,1200" stroke="#a06050" stroke-width="16" fill="none" filter="url(#blur3)" opacity="0.9"/>
<path d="M128.0,1025.0 C128.6,1021.6 132.2,1013.1 134.0,1011.0 C135.8,1008.9 142.8,1004.9 146.0,1004.0 C149.2,1003.1 161.6,1001.6 166.0,1002.0 C170.4,1002.4 185.6,1005.7 190.0,1008.0 C194.4,1010.3 206.8,1021.3 210.0,1025.0 C213.2,1028.7 219.6,1040.7 222.0,1045.0 C224.4,1049.3 231.4,1062.5 234.0,1068.0 C236.6,1073.5 245.2,1094.0 248.0,1100.0 C250.8,1106.0 259.4,1122.5 262.0,1128.0 C264.6,1133.5 272.1,1149.8 274.0,1155.0 C275.9,1160.2 280.0,1175.5 281.0,1180.0 C282.0,1184.5 292.6,1198.0 284.0,1200.0 C275.4,1202.0 205.4,1203.4 195.0,1200.0 C184.6,1196.6 183.5,1172.4 180.0,1166.0 C176.5,1159.6 163.5,1142.0 160.0,1136.0 C156.5,1130.0 147.6,1112.1 145.0,1106.0 C142.4,1099.9 135.7,1081.1 134.0,1075.0 C132.3,1068.9 128.6,1050.0 128.0,1045.0 C127.4,1040.0 127.4,1028.4 128.0,1025.0 Z" fill="url(#gMid)"/>
<path d="M128,1030 C132,1080 150,1120 190,1180 L197,1200" stroke="#d9a48c" stroke-width="3" fill="none" opacity="0.6" filter="url(#blur1)"/>
<path d="M225,1120 C240,1118 255,1125 268,1140" stroke="#d8a890" stroke-width="2" fill="none" opacity="0.6" filter="url(#blur1)"/>
<path d="M253,1016 L313,1007 Q321,1007 321,1013 L324,1088 Q324,1095 316,1096 L262,1103 Q255,1104 254,1096 L247,1024 Q247,1017 253,1016 Z" fill="#2a211f"/>
<path d="M253,1017 L313,1008" stroke="#544a46" stroke-width="1.5" fill="none"/>
<path d="M264,1052 L305,1048 L306,1076 L266,1080 Z" fill="#1c1816" stroke="#4a403c" stroke-width="1.6"/>
<path d="M274,1056 L304,1054 C303,1080 306,1120 307,1200 L286.5,1200 C285,1150 280,1110 274,1056 Z" fill="#2e2e30"/>
<path d="M283,1075 C286,1110 290,1150 292,1200" stroke="#58585c" stroke-width="3" fill="none" opacity="0.6"/>
<rect x="1006" y="457" width="100" height="131" fill="#fff"/>
<path d="M1064.0,467.5 C1064.0,460.7 1057.5,452.0 1056.4,452.0 C1055.3,452.0 1048.8,460.7 1048.8,467.5 A7.6,7.6 0 0 0 1064.0,467.5 Z" fill="#8dc863"/>
<path d="M1060.7,467.5 C1060.7,463.6 1057.0,459.0 1056.4,459.0 C1055.8,459.0 1052.1,463.6 1052.1,467.5 A4.3,4.3 0 0 0 1060.7,467.5 Z" fill="#2f9a3e"/>
<path d="M1041.4,473.7 C1038.9,467.3 1029.7,461.7 1028.6,462.1 C1027.5,462.6 1024.8,473.0 1027.4,479.3 A7.6,7.6 0 0 0 1041.4,473.7 Z" fill="#8dc863"/>
<path d="M1038.4,474.9 C1036.9,471.3 1031.8,468.4 1031.2,468.6 C1030.6,468.9 1029.0,474.5 1030.4,478.1 A4.3,4.3 0 0 0 1038.4,474.9 Z" fill="#2f9a3e"/>
<path d="M1085.4,479.3 C1088.0,473.0 1085.3,462.6 1084.2,462.1 C1083.1,461.7 1073.9,467.3 1071.4,473.7 A7.6,7.6 0 0 0 1085.4,479.3 Z" fill="#8dc863"/>
<path d="M1082.4,478.1 C1083.8,474.5 1082.2,468.9 1081.6,468.6 C1081.0,468.4 1075.9,471.3 1074.4,474.9 A4.3,4.3 0 0 0 1082.4,478.1 Z" fill="#2f9a3e"/>
<path d="M1015.9,480.2 C1010.6,475.8 999.9,475.2 999.1,476.0 C998.4,476.9 1000.9,487.4 1006.1,491.8 A7.6,7.6 0 0 0 1015.9,480.2 Z" fill="#8dc863"/>
<path d="M1013.8,482.7 C1010.8,480.2 1004.9,480.0 1004.5,480.5 C1004.1,481.0 1005.3,486.8 1008.2,489.3 A4.3,4.3 0 0 0 1013.8,482.7 Z" fill="#2f9a3e"/>
<path d="M1106.9,491.8 C1112.1,487.4 1114.6,476.9 1113.9,476.0 C1113.1,475.2 1102.4,475.8 1097.1,480.2 A7.6,7.6 0 0 0 1106.9,491.8 Z" fill="#8dc863"/>
<path d="M1104.8,489.3 C1107.7,486.8 1108.9,481.0 1108.5,480.5 C1108.1,480.0 1102.2,480.2 1099.2,482.7 A4.3,4.3 0 0 0 1104.8,489.3 Z" fill="#2f9a3e"/>
<path d="M1004.0,500.7 C997.4,498.9 987.3,502.9 987.0,504.0 C986.7,505.1 993.4,513.6 1000.0,515.3 A7.6,7.6 0 0 0 1004.0,500.7 Z" fill="#8dc863"/>
<path d="M1003.1,503.8 C999.4,502.8 994.0,505.2 993.8,505.8 C993.6,506.4 997.1,511.2 1000.9,512.2 A4.3,4.3 0 0 0 1003.1,503.8 Z" fill="#2f9a3e"/>
<path d="M1113.0,515.3 C1119.6,513.6 1126.3,505.1 1126.0,504.0 C1125.7,502.9 1115.6,498.9 1109.0,500.7 A7.6,7.6 0 0 0 1113.0,515.3 Z" fill="#8dc863"/>
<path d="M1112.1,512.2 C1115.9,511.2 1119.4,506.4 1119.2,505.8 C1119.0,505.2 1113.6,502.8 1109.9,503.8 A4.3,4.3 0 0 0 1112.1,512.2 Z" fill="#2f9a3e"/>
<path d="M991.0,521.4 C984.2,521.4 975.5,527.9 975.5,529.0 C975.5,530.1 984.2,536.6 991.0,536.6 A7.6,7.6 0 0 0 991.0,521.4 Z" fill="#8dc863"/>
<path d="M991.0,524.7 C987.1,524.7 982.5,528.4 982.5,529.0 C982.5,529.6 987.1,533.3 991.0,533.3 A4.3,4.3 0 0 0 991.0,524.7 Z" fill="#2f9a3e"/>
<path d="M1122.0,536.6 C1128.8,536.6 1137.5,530.1 1137.5,529.0 C1137.5,527.9 1128.8,521.4 1122.0,521.4 A7.6,7.6 0 0 0 1122.0,536.6 Z" fill="#8dc863"/>
<path d="M1122.0,533.3 C1125.9,533.3 1130.5,529.6 1130.5,529.0 C1130.5,528.4 1125.9,524.7 1122.0,524.7 A4.3,4.3 0 0 0 1122.0,533.3 Z" fill="#2f9a3e"/>
<line x1="1056.4" y1="489.0" x2="1056.4" y2="527.8" stroke="#a9cf7a" stroke-width="6"/>
<line x1="1028.8" y1="500.5" x2="1056.4" y2="527.8" stroke="#a9cf7a" stroke-width="6"/>
<line x1="1083.3" y1="500.5" x2="1056.4" y2="527.8" stroke="#a9cf7a" stroke-width="6"/>
<line x1="1017.0" y1="528.0" x2="1056.4" y2="527.8" stroke="#a9cf7a" stroke-width="6"/>
<line x1="1095.5" y1="528.0" x2="1056.4" y2="527.8" stroke="#a9cf7a" stroke-width="6"/>
<circle cx="1056.4" cy="489.0" r="10" fill="#a9cf7a"/>
<circle cx="1056.4" cy="489.0" r="5.3" fill="#b8608c"/>
<circle cx="1028.8" cy="500.5" r="10" fill="#a9cf7a"/>
<circle cx="1028.8" cy="500.5" r="5.3" fill="#b8608c"/>
<circle cx="1083.3" cy="500.5" r="10" fill="#a9cf7a"/>
<circle cx="1083.3" cy="500.5" r="5.3" fill="#b8608c"/>
<circle cx="1017.0" cy="528.0" r="10" fill="#a9cf7a"/>
<circle cx="1017.0" cy="528.0" r="5.3" fill="#b8608c"/>
<circle cx="1095.5" cy="528.0" r="10" fill="#a9cf7a"/>
<circle cx="1095.5" cy="528.0" r="5.3" fill="#b8608c"/>
<circle cx="1056.4" cy="527.8" r="21" fill="#a3cc70"/>
<circle cx="1056.4" cy="527.8" r="12.4" fill="#2e9a3e"/>
<text x="987" y="568" font-size="28" fill="#3f6e4c" stroke="#3f6e4c" stroke-width="0.5" textLength="42" lengthAdjust="spacingAndGlyphs">cre</text>
<text x="1029" y="568" font-size="28" fill="#7f9583" textLength="95" lengthAdjust="spacingAndGlyphs">scıence</text>
</svg></body></html>
